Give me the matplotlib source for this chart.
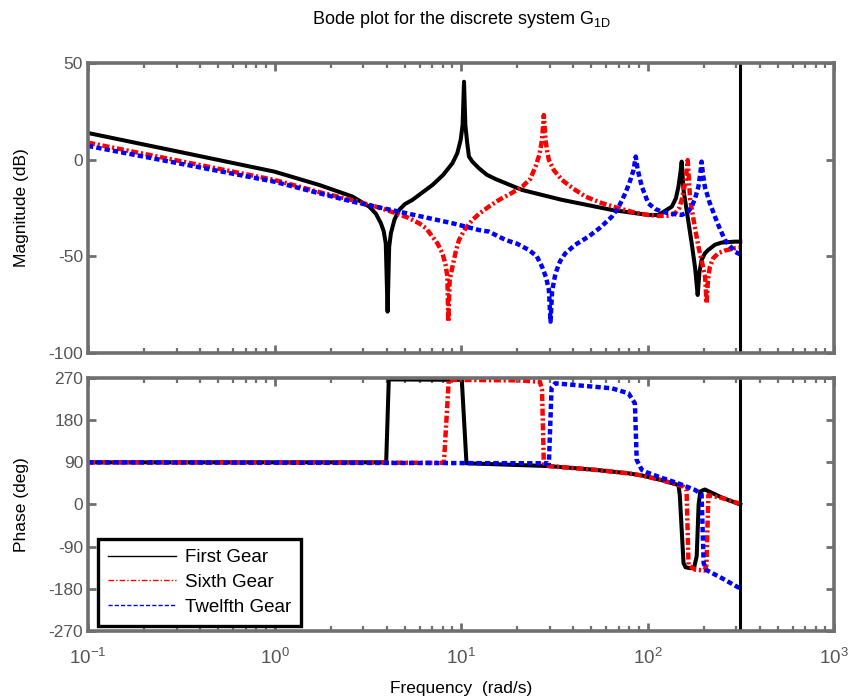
import numpy as np
import matplotlib
matplotlib.use("Agg")
import matplotlib.pyplot as plt
from matplotlib.lines import Line2D
from matplotlib.ticker import LogLocator, NullFormatter

plt.rcParams['font.family'] = ['Liberation Sans', 'DejaVu Sans']
plt.rcParams['mathtext.fontset'] = 'custom'
plt.rcParams['mathtext.rm'] = 'Liberation Sans'
plt.rcParams['mathtext.it'] = 'Liberation Sans'
plt.rcParams['mathtext.default'] = 'regular'
plt.rcParams['axes.unicode_minus'] = False

# ---------------- data ----------------
series_names = ["First Gear", "Sixth Gear", "Twelfth Gear"]

# Magnitude (dB)
first_mag_w = [0.1, 0.3, 1.0, 1.74, 2.62, 3.22, 3.5, 3.72, 3.85, 3.95, 4.04, 4.12, 4.21, 4.4,
               4.66, 5.0, 5.49, 6.2, 7.03, 8.0, 8.99, 9.55, 9.96, 10.2, 10.38, 10.55, 10.8,
               11.03, 11.5, 12.5, 13.8, 15.3, 21.3, 34.8, 64.4, 101, 114.5, 135, 142, 146.5,
               150, 152.5, 156, 165, 172.6, 180, 185.8, 190, 195, 203, 211.7, 230, 249.5, 294, 314.16]
first_mag_db = [13.8, 4.3, -6.2, -13.1, -19.1, -24.3, -28.0, -32.9, -37.0, -43.3, -78.6, -45.0, -38.0, -31.0,
                -26.0, -23.0, -20.8, -17.0, -13.1, -8.0, -1.9, 3.3, 10.2, 18.0, 40.3, 18.0, 8.5,
                1.6, -1.0, -4.5, -7.9, -10.0, -15.7, -20.8, -26.0, -28.6, -28.6, -24.3, -20.0, -14.0,
                -7.0, -1.0, -15.7, -31.0, -43.3, -56.0, -70.0, -58.0, -51.9, -48.5, -46.7, -44.0, -42.9, -42.4, -42.4]

sixth_mag_w = [0.1, 1.0, 1.74, 2.62, 3.5, 4.48, 5.2, 5.96, 6.5, 7.03, 7.5, 7.95, 8.25, 8.45,
               8.55, 8.7, 9.0, 9.4, 9.76, 10.5, 11.5, 12.5, 14.1, 16.0, 18.5, 21.3, 23.5, 25.1,
               26.3, 27.2, 27.8, 28.4, 29.0, 29.6, 31.5, 34.8, 40, 46.5, 57, 70, 85, 101,
               114.5, 130, 140.7, 148, 152.5, 157, 160.3, 162.5, 164.3, 169.3, 178, 187.5, 196,
               203.5, 207.5, 211, 216, 225, 239.7, 260, 294, 314.16]
sixth_mag_db = [8.8, -10.5, -16.8, -21.0, -24.3, -27.7, -30.0, -32.9, -35.5, -39.8, -43.5, -48.4, -54.0, -60.5,
                -83.8, -62.0, -55.4, -47.0, -41.5, -36.0, -31.2, -28.0, -24.3, -20.8, -17.5, -14.0, -10.0, -3.6,
                2.5, 10.2, 23.1, 10.0, 4.0, -0.2, -5.5, -10.5, -15.0, -19.1, -22.5, -25.1, -27.3, -28.6,
                -29.1, -29.0, -27.7, -25.0, -20.8, -15.0, -10.5, -5.0, -0.2, -20.8, -33.0, -45.0, -53.0,
                -60.5, -74.3, -62.0, -55.4, -51.0, -48.4, -47.0, -45.8, -45.5]

twelfth_mag_w = [0.1, 1.0, 1.74, 2.62, 4.66, 9.0, 12.5, 14.1, 17.3, 20, 23.1, 25.5, 27.2, 28.6,
                 29.6, 30.2, 30.8, 32.1, 34, 36.3, 41, 48.3, 56, 64.4, 70, 76, 80, 84.2, 86.5,
                 88.5, 93.3, 101, 110, 119.4, 135, 152.5, 165, 172.6, 180, 187.5, 192, 195, 198,
                 203, 215, 230, 245, 260, 294, 314.16]
twelfth_mag_db = [7.1, -11.4, -17.4, -21.7, -26.9, -32.9, -36.4, -37.2, -41.5, -43.5, -46.7, -50.0, -55.4, -61.0,
                  -67.4, -83.8, -68.0, -58.8, -52.5, -48.4, -44.0, -39.8, -35.0, -29.5, -24.5, -17.4, -12.0, -5.3, 1.6,
                  -5.0, -14.0, -22.6, -25.5, -26.9, -28.0, -28.6, -27.0, -24.3, -20.0, -14.0, -7.0, -1.0, -7.0,
                  -14.0, -22.0, -29.5, -36.0, -41.5, -47.6, -49.0]

# Phase (deg)
first_ph_w = [0.1, 3.97, 4.1, 10.1, 10.7, 29.6, 52.5, 79, 93.3, 119, 146.5, 149, 156,
              160, 170, 178, 183.6, 188, 192, 203, 250, 300, 314.16]
first_ph_deg = [90, 90, 267, 266, 88, 82, 74, 66.5, 62, 52, 41.6, 20, -125,
                -134, -136, -134, -110, 0, 28, 32, 15, 3, 0]

sixth_ph_w = [0.1, 8.1, 8.6, 20, 26.5, 27.2, 27.8, 29.6, 52.5, 79, 93.3, 119, 146.5,
              156, 162, 166, 180, 201.7, 207, 212, 250, 294, 314.16]
sixth_ph_deg = [90, 89, 266, 265, 262, 244, 88, 82, 74, 66.5, 62, 52, 41.6,
                38, 30, -130, -139, -141, -130, 20, 14, 5, 2]

twelfth_ph_w = [0.1, 29.6, 30.6, 32, 64.4, 79, 85.6, 87.5, 93.3, 100, 119, 146.5, 180,
                195, 200, 207, 250, 302, 314.16]
twelfth_ph_deg = [90, 88, 250, 258.7, 248, 237.4, 216, 95, 73.6, 68, 57, 45, 31,
                  22, -125, -140, -157, -175.5, -179]

nyquist_freq = 314.16

mag_ticks = [-100, -50, 0, 50]
phase_ticks = [-270, -180, -90, 0, 90, 180, 270]
freq_ticks = [0.1, 1, 10, 100, 1000]

# ---------------- styling ----------------
frame_col = '#6f6f6f'
tick_col = '#555555'
styles = [
    dict(color='black', lw=2.9, ls='-'),
    dict(color='#ff0000', lw=3.2, ls=(0, (1.6, 0.6, 0.5, 0.6))),
    dict(color='#0000ff', lw=3.2, ls=(0, (1.2, 0.7))),
]

fig = plt.figure(figsize=(8.5, 6.99), dpi=100)
W, H = 850, 699
def ax_rect(x0, y0, x1, y1):
    return [x0 / W, 1 - y1 / H, (x1 - x0) / W, (y1 - y0) / H]

ax1 = fig.add_axes(ax_rect(88, 63, 834, 353))
ax2 = fig.add_axes(ax_rect(88, 378, 834, 631))

mag_data = [(first_mag_w, first_mag_db), (sixth_mag_w, sixth_mag_db), (twelfth_mag_w, twelfth_mag_db)]
ph_data = [(first_ph_w, first_ph_deg), (sixth_ph_w, sixth_ph_deg), (twelfth_ph_w, twelfth_ph_deg)]

for (w, d), st in zip(mag_data, styles):
    ax1.plot(w, d, solid_joinstyle='round', **st)
for (w, d), st in zip(ph_data, styles):
    ax2.plot(w, d, solid_joinstyle='round', **st)

for ax in (ax1, ax2):
    ax.axvline(nyquist_freq, color='black', lw=2.2)
    ax.set_xscale('log')
    ax.set_xlim(freq_ticks[0], freq_ticks[-1])
    ax.set_xticks(freq_ticks)
    ax.xaxis.set_minor_locator(LogLocator(base=10, subs=np.arange(2, 10), numticks=20))
    ax.xaxis.set_minor_formatter(NullFormatter())
    for sp in ax.spines.values():
        sp.set_color(frame_col)
        sp.set_linewidth(2.6)
    ax.tick_params(which='both', direction='in', top=True, right=True, color=frame_col,
                   labelcolor=tick_col, labelsize=12.5)
    ax.tick_params(which='major', length=6, width=2)
    ax.tick_params(which='minor', length=3.5, width=1.6)

ax1.set_ylim(mag_ticks[0], mag_ticks[-1])
ax1.set_yticks(mag_ticks)
ax1.tick_params(axis='x', labelbottom=False)
ax2.set_ylim(phase_ticks[0], phase_ticks[-1])
ax2.set_yticks(phase_ticks)
ax2.tick_params(axis='x', pad=12, labelsize=13.5)

fig.text(461 / W, 1 - 19 / H, 'Bode plot for the discrete system G$_{1D}$', ha='center', va='center',
         fontsize=13)
fig.text(461 / W, 1 - 688 / H, 'Frequency  (rad/s)', ha='center', va='center', fontsize=12.5)
fig.text(22 / W, 1 - 208 / H, 'Magnitude (dB)', ha='center', va='center', rotation=90, fontsize=12.5)
fig.text(22 / W, 1 - 505 / H, 'Phase (deg)', ha='center', va='center', rotation=90, fontsize=12.5)

handles = [Line2D([], [], color=st['color'], lw=1.0,
                  ls=('-' if i == 0 else ((0, (4, 1.5, 1, 1.5)) if i == 1 else (0, (3, 1.5)))))
           for i, st in enumerate(styles)]
leg = ax2.legend(handles, series_names, loc='lower left', bbox_to_anchor=(0.013, 0.02),
                 borderaxespad=0, fancybox=False, framealpha=1, edgecolor='black',
                 fontsize=13.5, handlelength=3.6, handletextpad=0.5, labelspacing=0.4,
                 borderpad=0.55)
leg.get_frame().set_linewidth(2.4)

fig.savefig('out.png', dpi=100)
